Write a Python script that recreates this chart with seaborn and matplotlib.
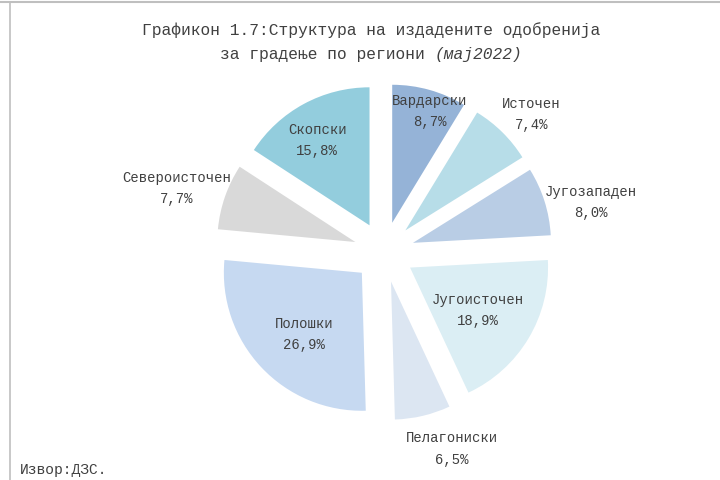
import matplotlib
matplotlib.use("Agg")
import matplotlib.pyplot as plt
import seaborn as sns
import numpy as np
from matplotlib.lines import Line2D

regions = ["Вардарски", "Источен", "Југозападен", "Југоисточен",
           "Пелагониски", "Полошки", "Североисточен", "Скопски"]
shares = [8.7, 7.4, 8.0, 18.9, 6.5, 26.9, 7.7, 15.8]
colors = ["#95B3D7", "#B7DDE8", "#B9CDE5", "#DBEEF4",
          "#DCE6F2", "#C6D9F1", "#D9D9D9", "#93CDDD"]

# label placement (distance from pie centre in radii, angle in degrees)
label_dist = [1.07, 1.46, 1.54, 0.80, 1.51, 0.83, 1.57, 0.94]
label_ang = [72, 43, 13.4, -32, -71, -134, 163, 121]

sns.set_theme(style="white")
plt.rcParams["font.family"] = ["Liberation Mono", "DejaVu Sans Mono", "DejaVu Sans"]
txt_color = "#404040"

W, H = 720, 480
R_PX = 138.0
CX, CY = 384.0, 252.0
fig = plt.figure(figsize=(7.2, 4.8), dpi=100)
fig.patch.set_facecolor("white")
ax = fig.add_axes([0, 0, 1, 1])

ax.pie(shares, colors=colors, startangle=90, counterclock=False,
       explode=[0.22] * len(shares), radius=1.0,
       wedgeprops=dict(linewidth=0))

ax.set_xlim(-CX / R_PX, (W - CX) / R_PX)
ax.set_ylim(-(H - CY) / R_PX, CY / R_PX)
ax.set_aspect("equal", adjustable="box")
ax.axis("off")

for name, v, d, a in zip(regions, shares, label_dist, label_ang):
    t = np.deg2rad(a)
    ax.text(d * np.cos(t), d * np.sin(t),
            f"{name}\n{v:.1f}".replace(".", ",") + "%",
            ha="center", va="center", fontsize=10, color=txt_color,
            linespacing=1.65)

# title
fig.text(0.515, 1 - 30 / H, "Графикон 1.7:Структура на издадените одобренија",
         ha="center", va="center", fontsize=11.7, color=txt_color)
renderer = fig.canvas.get_renderer()
part1 = "за градење по региони "
part2 = "(мај2022)"
t1 = fig.text(0, 1 - 55 / H, part1, ha="left", va="center",
              fontsize=11.7, color=txt_color)
t2 = fig.text(0, 1 - 55 / H, part2, ha="left", va="center",
              fontsize=11.7, color=txt_color, style="italic")
w1 = t1.get_window_extent(renderer).width
w2 = t2.get_window_extent(renderer).width
x0 = 371 - (w1 + w2) / 2
t1.set_x(x0 / W)
t2.set_x((x0 + w1) / W)

fig.text(20 / W, 1 - 470 / H, "Извор:ДЗС.", ha="left", va="center",
         fontsize=10.5, color=txt_color)

# chart frame (top and left edges visible)
fig.add_artist(Line2D([0, 1], [1 - 1.5 / H, 1 - 1.5 / H], transform=fig.transFigure,
                      color="#BFBFBF", linewidth=1.5))
fig.add_artist(Line2D([10 / W, 10 / W], [0, 1 - 1.5 / H], transform=fig.transFigure,
                      color="#BFBFBF", linewidth=1.2))

fig.savefig("out.png", dpi=100, facecolor="white")
